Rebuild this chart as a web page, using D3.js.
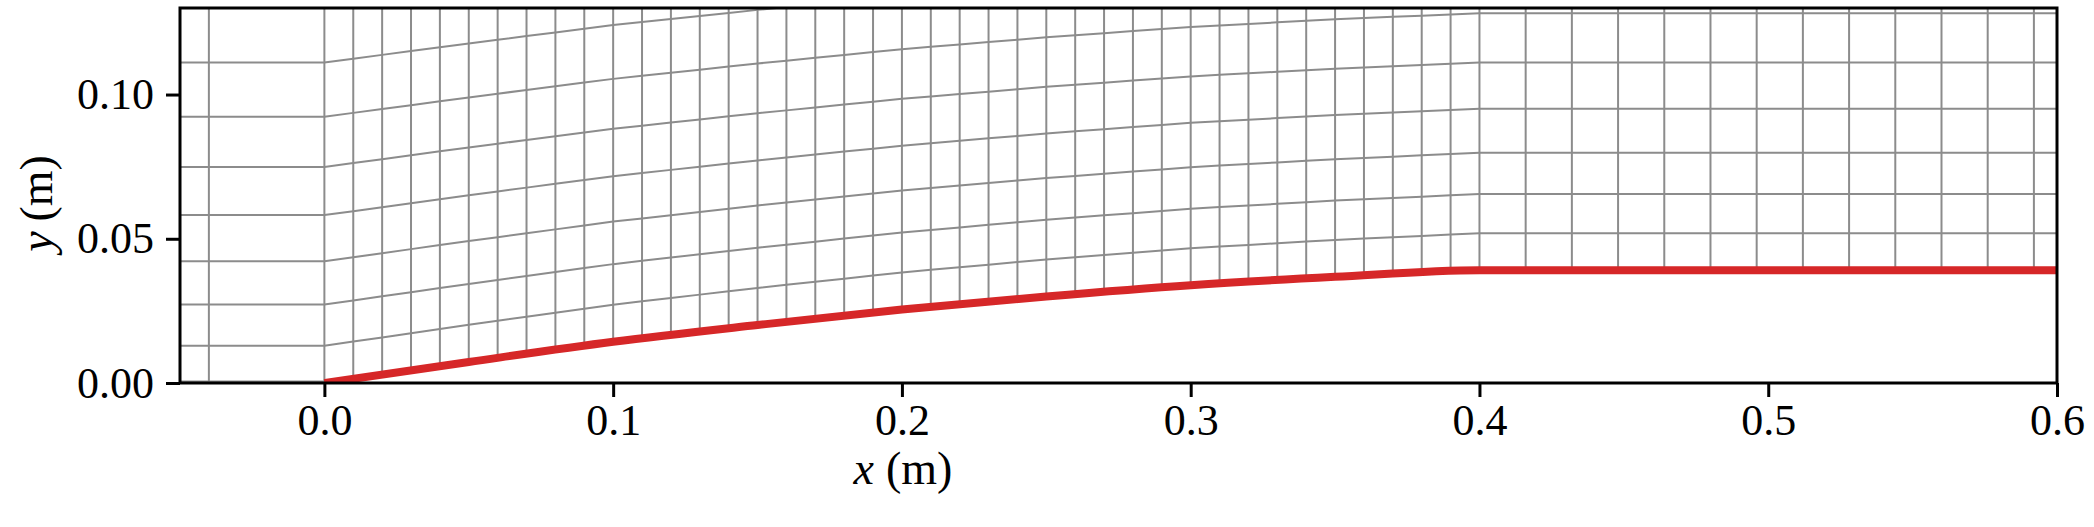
<!DOCTYPE html>
<html>
<head>
<meta charset="utf-8">
<script src="https://cdn.jsdelivr.net/npm/d3@7"></script>
<style>
  body { margin: 0; background: #fff; }
  text { font-family: "Liberation Serif", "DejaVu Serif", serif; }
</style>
</head>
<body>
<svg id="chart" width="2094" height="527"></svg>
<script>
// wall profile of the ramp (m)
var wallX = [0, 0.05, 0.1, 0.15, 0.2, 0.25, 0.3, 0.35, 0.4];
var wallY = [0, 0.0073, 0.0143, 0.0201, 0.0255, 0.0300, 0.0339, 0.0368, 0.0391];

// mesh columns
var inletCols = [-0.08, -0.04, 0];
var rampCols = d3.range(1, 40).map(function (i) { return i / 100; });
var outletCols = d3.range(0, 14).map(function (i) { return 0.4 + i * 0.016; });

// mesh rows: height at inlet and at outlet
var rowIn = [0.0129, 0.0272, 0.0422, 0.0582, 0.0749, 0.0923, 0.1111, 0.1309];
var rowOut = [0.0519, 0.0655, 0.0798, 0.0951, 0.1111, 0.1282, 0.1466, 0.1661];

var xTicks = [0, 0.1, 0.2, 0.3, 0.4, 0.5, 0.6];
var yTicks = [0, 0.05, 0.10];

var margin = {top: 8, right: 38, bottom: 142, left: 180},
    width = 2057 - margin.left,
    height = 383 - margin.top;

var svg = d3.select("#chart");
var g = svg.append("g")
  .attr("transform", "translate(" + margin.left + "," + margin.top + ")");

var x = d3.scaleLinear().domain([-0.05, 0.6]).range([0, width]);
var y = d3.scaleLinear().domain([0, 0.13]).range([height, 0]);

var wallAt = d3.scaleLinear().domain(wallX).range(wallY).clamp(true);
var H = 0.25;

g.append("clipPath").attr("id", "clip")
  .append("rect").attr("width", width).attr("height", height);
var plot = g.append("g").attr("clip-path", "url(#clip)");

// vertical mesh lines
var cols = inletCols.concat(rampCols, outletCols);
plot.selectAll(".col").data(cols).enter().append("line")
  .attr("x1", function (d) { return x(d); })
  .attr("x2", function (d) { return x(d); })
  .attr("y1", function (d) { return y(d < 0 ? 0 : wallAt(d)); })
  .attr("y2", y(H))
  .attr("stroke", "#8c8c8c").attr("stroke-width", 2);

// horizontal mesh lines
var xs = [-0.1].concat(cols.filter(function (d) { return d >= 0 && d <= 0.4; }), [0.7]);
var rowLine = d3.line()
  .x(function (d) { return x(d[0]); })
  .y(function (d) { return y(d[1]); });
plot.selectAll(".row").data(d3.range(rowIn.length)).enter().append("path")
  .attr("d", function (j) {
    return rowLine(xs.map(function (xx) {
      var f = wallAt(xx) / 0.0391;
      return [xx, rowIn[j] + (rowOut[j] - rowIn[j]) * f];
    }));
  })
  .attr("fill", "none").attr("stroke", "#8c8c8c").attr("stroke-width", 2);

// inlet wall
plot.append("line")
  .attr("x1", x(-0.05)).attr("x2", x(0))
  .attr("y1", y(0)).attr("y2", y(0))
  .attr("stroke", "#8c8c8c").attr("stroke-width", 5);

// ramp wall
var wallPts = wallX.map(function (d, i) { return [d, wallY[i]]; }).concat([[0.7, 0.0391]]);
plot.append("path")
  .attr("d", d3.line().x(function (d) { return x(d[0]); })
    .y(function (d) { return y(d[1]); }).curve(d3.curveMonotoneX)(wallPts))
  .attr("fill", "none").attr("stroke", "#d62728").attr("stroke-width", 8);

// axes
var xAxis = g.append("g").attr("transform", "translate(0," + height + ")")
  .call(d3.axisBottom(x).tickValues(xTicks).tickFormat(d3.format(".1f")).tickSize(14).tickPadding(7));
var yAxis = g.append("g")
  .call(d3.axisLeft(y).tickValues(yTicks).tickFormat(d3.format(".2f")).tickSize(14).tickPadding(12));
[xAxis, yAxis].forEach(function (a) {
  a.select(".domain").remove();
  a.selectAll("line").attr("stroke", "#000").attr("stroke-width", 3);
  a.selectAll("text").attr("font-size", 44).attr("fill", "#000")
    .style("font-family", "'Liberation Serif', serif");
});
g.append("rect").attr("width", width).attr("height", height)
  .attr("fill", "none").attr("stroke", "#000").attr("stroke-width", 3);

// labels
var lx = margin.left + x(0.2);
svg.append("text").attr("x", lx - 28).attr("y", 484)
  .attr("text-anchor", "end").attr("font-size", 46).attr("font-style", "italic").text("x");
svg.append("text").attr("x", lx - 16).attr("y", 484)
  .attr("text-anchor", "start").attr("font-size", 46).text("(m)");
var ly = margin.top + y(0.065);
svg.append("text")
  .attr("transform", "translate(52," + (ly + 46) + ") rotate(-90)")
  .attr("text-anchor", "middle").attr("font-size", 46).attr("font-style", "italic").text("y");
svg.append("text")
  .attr("transform", "translate(52," + (ly + 26) + ") rotate(-90)")
  .attr("text-anchor", "start").attr("font-size", 46).text("(m)");
</script>
</body>
</html>
